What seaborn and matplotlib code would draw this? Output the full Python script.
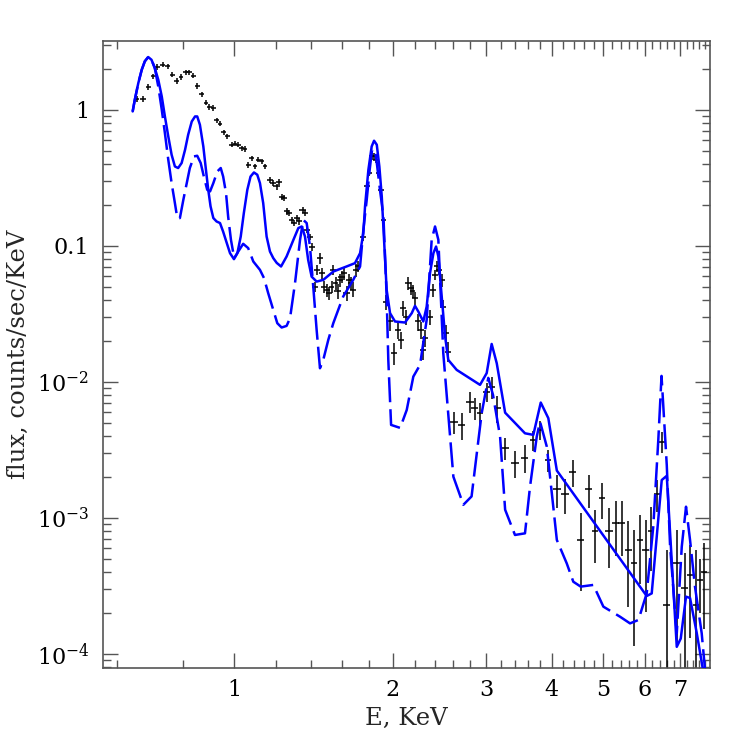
import numpy as np
import matplotlib
matplotlib.use("Agg")
import matplotlib.pyplot as plt
from matplotlib.ticker import FixedLocator, LogLocator, FuncFormatter, NullFormatter
import seaborn as sns

# observed spectrum (keV, counts/sec/keV)
energy = [0.654, 0.672, 0.688, 0.703, 0.716, 0.733, 0.749, 0.764, 0.779, 0.794,
          0.810, 0.823, 0.837, 0.853, 0.869, 0.885, 0.898, 0.914, 0.927, 0.941,
          0.957, 0.971, 0.990, 1.004, 1.019, 1.034, 1.049, 1.064, 1.080, 1.096,
          1.112, 1.128, 1.145, 1.170, 1.187, 1.204, 1.218, 1.231, 1.244, 1.258,
          1.273, 1.286, 1.299, 1.315, 1.328, 1.349, 1.363, 1.377, 1.393, 1.407,
          1.424, 1.438, 1.455, 1.470, 1.482, 1.498, 1.513, 1.531, 1.542, 1.558,
          1.572, 1.587, 1.599, 1.615, 1.634, 1.651, 1.665, 1.682, 1.702, 1.719,
          1.753, 1.784, 1.805, 1.823, 1.842, 1.858, 1.876, 1.898, 1.917, 1.940,
          1.975, 2.010, 2.047, 2.069, 2.092, 2.117, 2.138, 2.161, 2.179, 2.202,
          2.234, 2.258, 2.278, 2.301, 2.351, 2.386, 2.403, 2.427, 2.448, 2.474,
          2.491, 2.521, 2.546, 2.611, 2.700, 2.799, 2.860, 2.924, 3.010, 3.076,
          3.153, 3.262, 3.405, 3.557, 3.689, 3.798, 3.938, 4.087, 4.237, 4.380,
          4.535, 4.692, 4.828, 4.971, 5.137, 5.282, 5.423, 5.581, 5.723, 5.874,
          6.022, 6.164, 6.320, 6.451, 6.600, 6.894, 7.133, 7.305, 7.489, 7.630,
          7.769]
flux = [1.20, 1.20, 1.47, 1.76, 2.06, 2.14, 2.08, 1.81, 1.63, 1.74,
        1.88, 1.88, 1.78, 1.50, 1.30, 1.13, 1.05, 1.03, 0.834, 0.789,
        0.681, 0.636, 0.553, 0.562, 0.553, 0.523, 0.514, 0.394, 0.441, 0.383,
        0.429, 0.417, 0.383, 0.306, 0.289, 0.273, 0.294, 0.230, 0.224, 0.179,
        0.174, 0.155, 0.147, 0.160, 0.151, 0.184, 0.174, 0.131, 0.117, 0.0988,
        0.0502, 0.0666, 0.0812, 0.0630, 0.0502, 0.0475, 0.0449, 0.0502, 0.0666, 0.0532,
        0.0462, 0.0562, 0.0594, 0.0630, 0.0449, 0.0562, 0.0532, 0.0475, 0.0666, 0.0705,
        0.117, 0.273, 0.343, 0.454, 0.454, 0.429, 0.343, 0.258, 0.155, 0.0389,
        0.0278, 0.0163, 0.0241, 0.0204, 0.0348, 0.0302, 0.0532, 0.0489, 0.0462, 0.0412,
        0.0278, 0.0241, 0.0172, 0.0210, 0.0302, 0.0475, 0.0612, 0.0705, 0.0666, 0.0562,
        0.0358, 0.0228, 0.0167, 0.00510, 0.00483, 0.00716, 0.00641, 0.00589, 0.00849, 0.00924,
        0.00641, 0.00325, 0.00255, 0.00278, 0.00375, 0.00444, 0.00267, 0.00163, 0.00150, 0.00219,
        6.89e-4, 1.63e-3, 8.07e-4, 1.40e-3, 8.07e-4, 9.23e-4, 9.23e-4, 5.82e-4, 4.65e-4, 6.89e-4,
        5.82e-4, 8.07e-4, 1.50e-3, 3.64e-3, 2.29e-4, 4.65e-4, 3.06e-4, 3.81e-4, 2.29e-4, 3.50e-4,
        4.03e-4]
flux_err = [0.055, 0.055, 0.068, 0.080, 0.092, 0.096, 0.094, 0.082, 0.074, 0.079,
            0.085, 0.085, 0.080, 0.068, 0.059, 0.051, 0.047, 0.046, 0.037, 0.035,
            0.030, 0.028, 0.025, 0.025, 0.025, 0.023, 0.023, 0.018, 0.020, 0.017,
            0.019, 0.018, 0.017, 0.016, 0.015, 0.014, 0.015, 0.012, 0.012, 0.0093,
            0.0090, 0.0081, 0.0077, 0.0083, 0.0079, 0.0096, 0.0090, 0.0068, 0.0061, 0.0069,
            0.0044, 0.0059, 0.0072, 0.0056, 0.0054, 0.0051, 0.0048, 0.0054, 0.0059, 0.0057,
            0.0058, 0.0060, 0.0064, 0.0067, 0.0057, 0.0060, 0.0057, 0.0051, 0.0071, 0.0062,
            0.0082, 0.014, 0.018, 0.024, 0.024, 0.022, 0.018, 0.013, 0.011, 0.0049,
            0.0040, 0.0030, 0.0035, 0.0030, 0.0044, 0.0038, 0.0057, 0.0052, 0.0049, 0.0044,
            0.0040, 0.0035, 0.0028, 0.0030, 0.0038, 0.0051, 0.0054, 0.0062, 0.0059, 0.0060,
            0.0045, 0.0033, 0.0028, 0.00094, 0.0011, 0.0013, 0.0012, 0.0011, 0.0014, 0.0017,
            0.0014, 0.00060, 0.00057, 0.00063, 0.00062, 0.00073, 0.00049, 0.00044, 0.00043, 0.00049,
            4.0e-4, 4.4e-4, 3.4e-4, 4.1e-4, 3.8e-4, 4.0e-4, 4.0e-4, 3.6e-4, 3.5e-4, 3.6e-4,
            3.8e-4, 4.0e-4, 4.0e-4, 6.6e-4, 3.5e-4, 3.5e-4, 2.5e-4, 2.5e-4, 3.5e-4, 1.5e-4,
            2.5e-4]
# half width of the energy bins
energy_err = ([0.008] * 10 + [0.009] * 7 + [0.010] * 8 + [0.011] * 8
              + [0.016] * 12 + [0.019] * 15 + [0.022] * 19
              + [0.027] * 11 + [0.031] * 13
              + [0.044] * 8 + [0.054] * 6 + [0.068] * 7 + [0.085] * 9 + [0.105] * 8)

# model 1 (solid)
model_e = [0.643, 0.649, 0.659, 0.669, 0.678, 0.688, 0.698, 0.708, 0.719, 0.730,
           0.740, 0.751, 0.762, 0.773, 0.784, 0.796, 0.808, 0.819, 0.832, 0.844,
           0.852, 0.862, 0.875, 0.885, 0.894, 0.903, 0.914, 0.927, 0.941, 0.954,
           0.969, 0.983, 1.000, 1.015, 1.030, 1.044, 1.060, 1.075, 1.091, 1.107,
           1.120, 1.136, 1.153, 1.170, 1.187, 1.205, 1.228, 1.258, 1.296, 1.324,
           1.344, 1.363, 1.382, 1.403, 1.434, 1.476, 1.542, 1.634, 1.695, 1.733,
           1.758, 1.771, 1.797, 1.823, 1.842, 1.864, 1.885, 1.905, 1.924, 1.946,
           1.975, 2.018, 2.108, 2.171, 2.202, 2.234, 2.283, 2.317, 2.351, 2.386,
           2.414, 2.438, 2.474, 2.511, 2.546, 2.641, 2.924, 3.010, 3.076, 3.145,
           3.262, 3.557, 3.689, 3.810, 3.938, 4.087, 6.047, 6.181, 6.457, 6.600,
           6.894, 7.015, 7.178, 7.305, 7.521, 7.740]
model_f = [0.972, 1.184, 1.57, 1.97, 2.27, 2.44, 2.33, 2.03, 1.66, 1.25,
           0.893, 0.637, 0.467, 0.383, 0.373, 0.406, 0.508, 0.655, 0.820, 0.893,
           0.893, 0.776, 0.537, 0.362, 0.258, 0.195, 0.160, 0.151, 0.147, 0.127,
           0.105, 0.0883, 0.0798, 0.0883, 0.117, 0.174, 0.258, 0.323, 0.346, 0.333,
           0.289, 0.206, 0.117, 0.0908, 0.0812, 0.0749, 0.0705, 0.0835, 0.1107, 0.135,
           0.1387, 0.117, 0.0789, 0.0594, 0.0546, 0.0562, 0.0647, 0.0705, 0.0746, 0.0883,
           0.124, 0.195, 0.362, 0.537, 0.592, 0.553, 0.383, 0.230, 0.1107, 0.0475,
           0.0320, 0.0278, 0.0273, 0.0320, 0.0362, 0.0329, 0.0278, 0.0358, 0.0630, 0.0883,
           0.0988, 0.0834, 0.0424, 0.0215, 0.0145, 0.01225, 0.00951, 0.0116, 0.0190, 0.0137,
           0.00594, 0.00419, 0.00408, 0.00705, 0.00541, 0.00223, 2.67e-4, 2.79e-4, 1.90e-3, 2.04e-3,
           1.13e-4, 1.30e-4, 2.64e-4, 2.58e-4, 1.43e-4, 7.4e-5]

# model 2 (dashed)
model2_e = [0.643, 0.649, 0.659, 0.669, 0.678, 0.688, 0.698, 0.708, 0.719, 0.730,
            0.740, 0.751, 0.762, 0.773, 0.781, 0.790, 0.802, 0.814, 0.825, 0.840,
            0.852, 0.865, 0.877, 0.890, 0.901, 0.914, 0.930, 0.944, 0.954, 0.966,
            0.975, 0.987, 1.001, 1.019, 1.041, 1.064, 1.088, 1.120, 1.140, 1.161,
            1.187, 1.208, 1.231, 1.258, 1.277, 1.305, 1.334, 1.353, 1.373, 1.393,
            1.413, 1.434, 1.455, 1.476, 1.509, 1.542, 1.610, 1.682, 1.733, 1.758,
            1.784, 1.807, 1.826, 1.850, 1.866, 1.890, 1.919, 1.946, 1.960, 1.984,
            2.064, 2.124, 2.186, 2.251, 2.317, 2.368, 2.403, 2.438, 2.491, 2.603,
            2.719, 2.818, 2.883, 2.945, 3.031, 3.094, 3.191, 3.262, 3.405, 3.557,
            3.636, 3.744, 3.798, 3.912, 4.087, 4.267, 4.391, 4.535, 4.792, 5.006,
            5.384, 5.623, 5.833, 6.047, 6.223, 6.361, 6.451, 6.600, 6.697, 6.894,
            7.046, 7.178, 7.305, 7.464, 7.686, 7.800]
model2_f = [0.972, 1.184, 1.57, 1.97, 2.27, 2.44, 2.33, 2.03, 1.48, 1.0,
            0.674, 0.429, 0.289, 0.206, 0.160, 0.160, 0.218, 0.289, 0.373, 0.454,
            0.459, 0.406, 0.323, 0.258, 0.251, 0.289, 0.352, 0.373, 0.323, 0.244,
            0.164, 0.1107, 0.0812, 0.0908, 0.1035, 0.0962, 0.0767, 0.0666, 0.0579, 0.0449,
            0.0338, 0.0270, 0.0251, 0.0258, 0.0294, 0.0532, 0.1107, 0.155, 0.147, 0.0988,
            0.0502, 0.0241, 0.0126, 0.0145, 0.0204, 0.0270, 0.0424, 0.0562, 0.0705, 0.131,
            0.218, 0.362, 0.508, 0.508, 0.394, 0.258, 0.164, 0.0424, 0.0145, 0.00483,
            0.00459, 0.00622, 0.01094, 0.01334, 0.0286, 0.1107, 0.1387, 0.1107, 0.01625, 0.00201,
            0.00125, 0.00144, 0.00299, 0.00589, 0.01070, 0.00802, 0.00396, 0.00115, 7.5e-4, 7.71e-4,
            0.00170, 0.00396, 0.00510, 0.00334, 6.89e-4, 4.64e-4, 3.40e-4, 3.13e-4, 3.22e-4, 2.23e-4,
            1.88e-4, 1.68e-4, 1.78e-4, 2.79e-4, 8.63e-4, 0.00375, 0.01107, 0.00245, 6.15e-4, 1.42e-4,
            6.15e-4, 0.00121, 6.89e-4, 3.13e-4, 1.42e-4, 7.6e-5]

x_ticks = [1, 2, 3, 4, 5, 6, 7]
x_minor = [0.6, 0.8, 1.2, 1.4, 1.6, 1.8, 2.2, 2.4, 2.6, 2.8, 3.2, 3.4, 3.6, 3.8,
           4.2, 4.4, 4.6, 4.8, 5.2, 5.4, 5.6, 5.8, 6.2, 6.4, 6.6, 6.8, 7.2, 7.4, 7.6, 7.8]
y_ticks = [1e-4, 1e-3, 1e-2, 0.1, 1]


def y_label(v, pos):
    if v >= 0.999:
        return "1"
    if abs(v - 0.1) < 1e-6:
        return "0.1"
    return r"$10^{%d}$" % int(round(np.log10(v)))


def plot_spectrum():
    sns.set_style("ticks")
    plt.rcParams["font.family"] = ["DejaVu Serif"]
    plt.rcParams["mathtext.fontset"] = "dejavuserif"

    fig = plt.figure(figsize=(7.47, 7.47), dpi=100)
    ax = fig.add_axes([0.1379, 0.1058, 0.8126, 0.8393])
    ax.set_xscale("log")
    ax.set_yscale("log")

    ax.errorbar(energy, flux, yerr=flux_err, xerr=energy_err, fmt="none",
                ecolor="black", elinewidth=1.1, capsize=0, zorder=2)

    sns.lineplot(x=model_e, y=model_f, ax=ax, color="#0000ff", linewidth=1.8,
                 sort=False, estimator=None, zorder=3)
    sns.lineplot(x=model2_e, y=model2_f, ax=ax, color="#0000ff", linewidth=1.8,
                 linestyle=(0, (10, 2.8)), sort=False, estimator=None, zorder=3)

    ax.set_xlim(0.565, 7.97)
    ax.set_ylim(7.9e-5, 3.2)

    ax.xaxis.set_major_locator(FixedLocator(x_ticks))
    ax.xaxis.set_minor_locator(FixedLocator(x_minor))
    ax.xaxis.set_major_formatter(FuncFormatter(lambda v, p: "%d" % v))
    ax.xaxis.set_minor_formatter(NullFormatter())
    ax.yaxis.set_major_locator(FixedLocator(y_ticks))
    ax.yaxis.set_minor_locator(LogLocator(base=10, subs=np.arange(2, 10)))
    ax.yaxis.set_major_formatter(FuncFormatter(y_label))
    ax.yaxis.set_minor_formatter(NullFormatter())

    ax.tick_params(which="both", direction="in", top=True, right=True,
                   color="#555555", width=1.0, labelsize=16, labelcolor="black")
    ax.tick_params(which="major", length=11)
    ax.tick_params(which="minor", length=5.5)
    ax.tick_params(axis="y", pad=10)
    ax.tick_params(axis="x", pad=8)
    for sp in ax.spines.values():
        sp.set_color("#555555")
        sp.set_linewidth(1.2)

    ax.set_xlabel("E, KeV", fontsize=17.5, labelpad=4)
    ax.set_ylabel("flux, counts/sec/KeV", fontsize=17.5, labelpad=5)

    fig.savefig("out.png", dpi=100)


if __name__ == "__main__":
    plot_spectrum()
